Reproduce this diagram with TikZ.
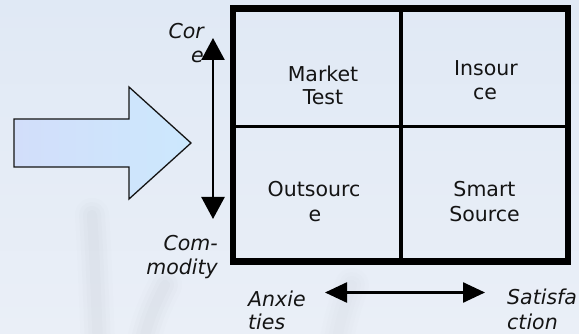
\documentclass[tikz,border=0pt]{standalone}
\usepackage{fontspec}
\setmainfont{DejaVu Sans}[ItalicFont={DejaVu Sans Oblique}]
\usetikzlibrary{arrows.meta}
\definecolor{bgtop}{RGB}{224,233,245}
\definecolor{bgbot}{RGB}{234,239,247}
\definecolor{arrL}{RGB}{210,222,250}
\definecolor{arrR}{RGB}{204,232,253}
\definecolor{ink}{RGB}{20,20,20}
\definecolor{stem}{RGB}{150,155,165}
\tikzset{
  celltext/.style={font=\fontsize{20.5}{24}\selectfont, text=ink, inner sep=0pt, anchor=base},
  axistext/.style={font=\fontsize{20.5}{24}\selectfont\itshape, text=ink, inner sep=0pt},
  axisarrow/.style={draw=black, line width=2.5pt, {Triangle[width=23pt,length=22pt]}-{Triangle[width=23pt,length=22pt]}},
  haxisarrow/.style={draw=black, line width=2.5pt, {Triangle[width=20pt,length=22pt]}-{Triangle[width=20pt,length=22pt]}},
}
\begin{document}
\begin{tikzpicture}[x=1pt,y=-1pt]
\useasboundingbox (0,0) rectangle (579,334);
% background
\fill[top color=bgtop, bottom color=bgbot] (0,0) rectangle (579,334);
% faint blurred stems
\foreach \w/\o in {34/0.025,26/0.03,18/0.035,10/0.04}{
  \draw[stem, line width=\w pt, opacity=\o, line cap=round] (92,215) .. controls (95,260) and (96,300) .. (98,345);
  \draw[stem, line width=\w pt, opacity=\o, line cap=round] (165,285) .. controls (155,305) and (148,320) .. (143,345);
  \draw[stem, line width=\w pt, opacity=0.6*\o, line cap=round] (352,285) .. controls (345,305) and (340,320) .. (336,345);
}
% big arrow
\draw[draw=ink, line width=1.3pt, line join=miter, left color=arrL, right color=arrR]
  (14,119) -- (129,119) -- (129,87) -- (191,143) -- (129,199) -- (129,167) -- (14,167) -- cycle;
% matrix
\draw[black, line width=4pt] (400.5,8.5) -- (400.5,261.5);
\draw[black, line width=3.6pt] (233,126.5) -- (568,126.5);
\draw[black, line width=6.5pt] (233,8.5) rectangle (568,261.5);
% cell texts
\node[celltext] (mt1) at (323,82) {Market};
\node[celltext] (mt2) at (323,105) {Test};
\node[celltext] (in1) at (486,76) {Insour};
\node[celltext] (in2) at (485,100) {ce};
\node[celltext] (ou1) at (314,197) {Outsourc};
\node[celltext] (ou2) at (315,222) {e};
\node[celltext] (sm1) at (484.5,197) {Smart};
\node[celltext] (sm2) at (484.5,222) {Source};
% axis arrows
\coordinate (vtop) at (213,38);
\coordinate (vbot) at (213,219);
\draw[axisarrow] (vbot) -- (vtop);
\coordinate (hleft) at (325,292.5);
\coordinate (hright) at (485,292.5);
\draw[haxisarrow] (hleft) -- (hright);
% axis labels
\node[axistext, anchor=base east] (co1) at (204,39) {Cor};
\node[axistext, anchor=base east] (co2) at (204,63) {e};
\node[axistext, anchor=base east] (cm1) at (218,251) {Com-};
\node[axistext, anchor=base east] (cm2) at (218,274) {modity};
\node[axistext, anchor=base west] (an1) at (248,306) {Anxie};
\node[axistext, anchor=base west] (an2) at (248,329) {ties};
\node[axistext, anchor=base west] (sa1) at (507,305) {Satisfa};
\node[axistext, anchor=base west] (sa2) at (507,329) {ction};
\end{tikzpicture}
\end{document}
